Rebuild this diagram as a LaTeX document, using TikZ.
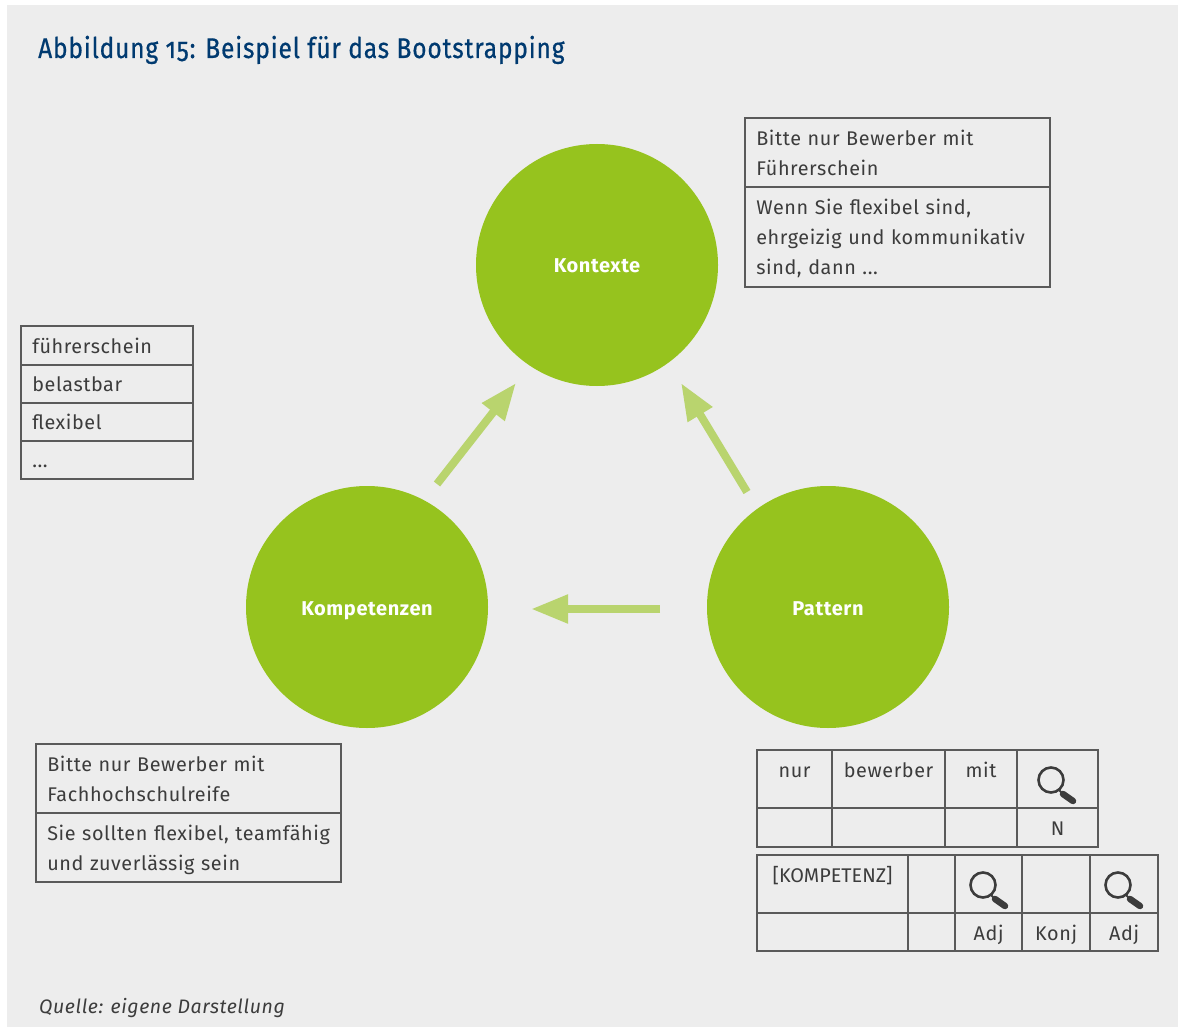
\documentclass[tikz,border=0pt]{standalone}
\usepackage{fontspec}
\setmainfont{Fira Sans}[LetterSpace=3]
\newfontfamily\titlefont{Fira Sans}[FakeStretch=0.86,FakeBold=0.6,LetterSpace=3,Numbers=OldStyle]
\usetikzlibrary{arrows.meta}
\definecolor{bggray}{HTML}{EDEDED}
\definecolor{circgreen}{HTML}{96C31E}
\definecolor{arrowgreen}{HTML}{B9D46E}
\definecolor{titleblue}{HTML}{003A70}
\definecolor{textgray}{HTML}{3C3C3C}
\definecolor{linegray}{HTML}{5A5A5A}
\tikzset{
    topic/.style={circle,fill=circgreen,draw=none,minimum size=242pt,inner sep=0pt,text=white,font=\fontsize{20}{24}\selectfont\bfseries},
    flow/.style={line width=8pt,draw=arrowgreen,-{Triangle[length=37pt,width=27pt,fill=arrowgreen]}},
    textbox/.style={draw=linegray,line width=1.4pt,anchor=north west,xshift=-0.6pt,yshift=0.6pt,align=left,inner sep=0pt,inner xsep=11.2pt,text=textgray,font=\fontsize{19.8}{30}\selectfont},
    cellbox/.style={draw=linegray,line width=1.4pt,anchor=north west,xshift=-0.6pt,yshift=0.6pt,inner sep=0pt},
    celltext/.style={anchor=base,inner sep=0pt,text=textgray,font=\fontsize{19.8}{24}\selectfont},
    lens/.pic={
        \draw[textgray,line width=2.6pt] (0,0) circle (12.5pt);
        \draw[textgray,line width=6.5pt,line cap=round] (12,14) -- (22,21);
        \draw[textgray,line width=1.8pt] (8,10) -- (12,14);
    }
}
\begin{document}
\begin{tikzpicture}[x=1pt,y=-1pt]
    \useasboundingbox (0,0) rectangle (1178,1027);
    \fill[bggray] (7,5) rectangle (1178,1027);

    \node[anchor=base west,inner sep=0pt,text=titleblue,font=\fontsize{28.5}{34}\titlefont] (title) at (38,58) {Abbildung 15: Beispiel für das Bootstrapping};
    \node[anchor=base west,inner sep=0pt,text=textgray,font=\fontsize{19.5}{24}\selectfont\itshape] (source) at (39,1013) {Quelle: eigene Darstellung};

    \node[topic] (kontexte) at (597,265) {\raisebox{-8pt}[0pt][0pt]{Kontexte}};
    \node[topic] (kompetenzen) at (367,607) {\raisebox{-8pt}[0pt][0pt]{Kompetenzen}};
    \node[topic] (pattern) at (828,607) {\raisebox{-8pt}[0pt][0pt]{Pattern}};

    \coordinate (a1) at (437,484);
    \coordinate (a2) at (516,383);
    \coordinate (b1) at (747,492);
    \coordinate (b2) at (681,383);
    \coordinate (c1) at (660,609);
    \coordinate (c2) at (531,609);
    \draw[flow] (a1) -- (a2);
    \draw[flow] (b1) -- (b2);
    \draw[flow] (c1) -- (c2);

    % boxes
    \node[textbox,minimum width=305pt,text width=282.6pt,minimum height=69pt] (kon1) at (745,118) {Bitte nur Bewerber mit\\Führerschein};
    \node[textbox,minimum width=305pt,text width=282.6pt,minimum height=100pt,text height=19pt] (kon2) at (745,187) {Wenn Sie flexibel sind,\\ehrgeizig und kommunikativ\\sind, dann ...};
    \node[textbox,minimum width=305pt,text width=282.6pt,minimum height=69pt] (kom1) at (36,744) {Bitte nur Bewerber mit\\Fachhochschulreife};
    \node[textbox,minimum width=305pt,text width=282.6pt,minimum height=69pt,text height=20pt] (kom2) at (36,813) {Sie sollten flexibel, teamfähig\\und zuverlässig sein};

    \foreach \y/\h/\n/\t in {326/39/l1/führerschein,365/38/l2/belastbar,403/38/l3/flexibel}
    {
        \node[textbox,minimum width=172pt,text width=149.6pt,minimum height=\h pt] (\n) at (21,\y) {\t};
    }
    \node[textbox,minimum width=172pt,text width=149.6pt,minimum height=38pt,text height=15pt,text depth=0pt] (l4) at (21,441) {...};

    % tables
    \foreach \xa/\xb/\n/\t in {757/832/p1/nur,832/945/p2/bewerber,945/1017/p3/mit,1017/1098/p4/}
    {
        \node[cellbox,minimum width=\xb pt-\xa pt,minimum height=58pt] (\n) at (\xa,750) {};
        \node[celltext] at ([yshift=-28pt]\n.north) {\t};
    }
    \foreach \xa/\xb/\n/\t in {757/832/q1/,832/945/q2/,945/1017/q3/,1017/1098/q4/N}
    {
        \node[cellbox,minimum width=\xb pt-\xa pt,minimum height=39pt] (\n) at (\xa,808) {};
        \node[celltext] at ([yshift=-28pt]\n.north) {\t};
    }
    \foreach \xa/\xb/\n/\t in {757/908/r1/[KOMPETENZ],908/955/r2/,955/1022/r3/,1022/1090/r4/,1090/1158/r5/}
    {
        \node[cellbox,minimum width=\xb pt-\xa pt,minimum height=58pt] (\n) at (\xa,855) {};
        \node[celltext] at ([yshift=-28pt]\n.north) {\addfontfeature{LetterSpace=0}\t};
    }
    \foreach \xa/\xb/\n/\t in {757/908/s1/,908/955/s2/,955/1022/s3/Adj,1022/1090/s4/Konj,1090/1158/s5/Adj}
    {
        \node[cellbox,minimum width=\xb pt-\xa pt,minimum height=38pt] (\n) at (\xa,913) {};
        \node[celltext] at ([yshift=-28pt]\n.north) {\t};
    }

    \pic at (1051,780) {lens};
    \pic at (983,885) {lens};
    \pic at (1118,885) {lens};
\end{tikzpicture}
\end{document}
